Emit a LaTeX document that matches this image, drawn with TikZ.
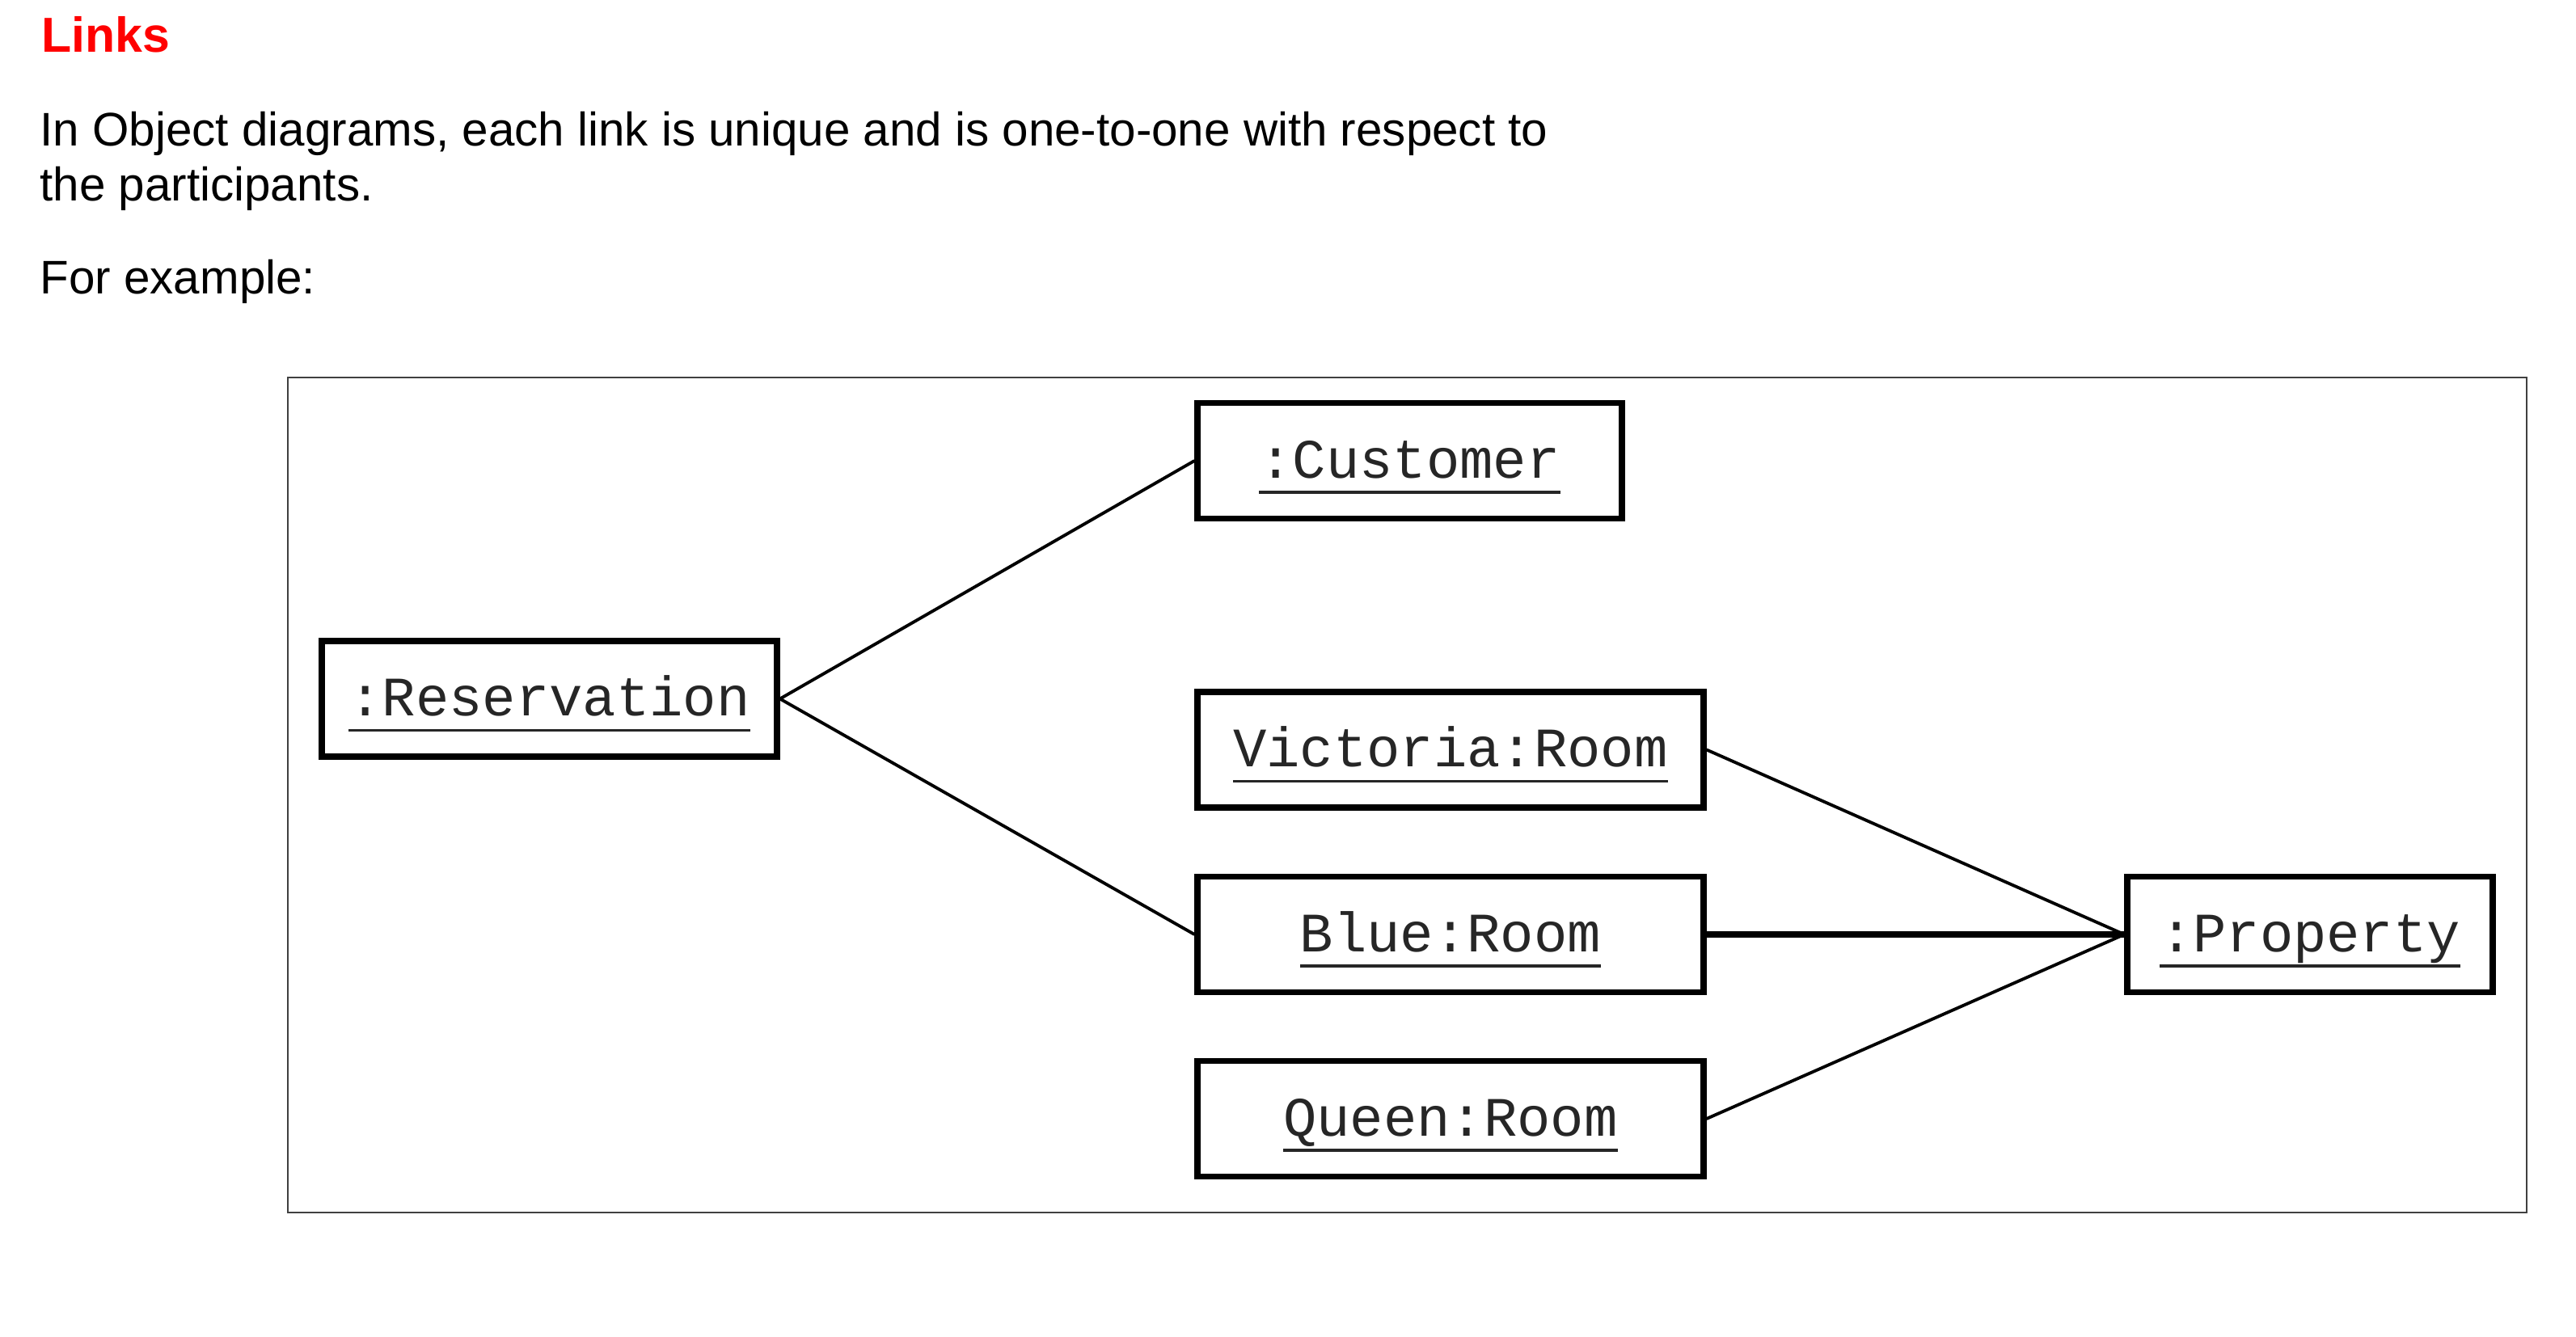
\documentclass[tikz,border=0pt]{standalone}
\usepackage{fontspec}
\setmainfont{Liberation Sans}
\newfontfamily\objfont{Liberation Mono}
\newcommand{\objname}[1]{\setbox0\hbox{#1}\rlap{\rule[-5.6pt]{\wd0}{1pt}}\box0}
\begin{document}
\begin{tikzpicture}[
    obj/.style = {draw, line width = 2.1pt, inner sep = 0pt, minimum height = 1.43cm,
      font = \objfont\fontsize{19.6}{22}\selectfont, text = black!85, text height = 12pt, text depth = 0pt},
    link/.style = {line width = 1.1pt}]
      \useasboundingbox (0,0) rectangle (31.86,16.53);
      \node[anchor = base west, inner sep = 0pt, text = red, font = \fontsize{17.3}{20}\selectfont\bfseries] (title) at (0.51,15.88) {Links};
      \node[anchor = base west, inner sep = 0pt, align = left, font = \fontsize{16.6}{19.6}\selectfont] (intro) at (0.49,14.04) {In Object diagrams, each link is unique and is one-to-one with respect to\\the participants.};
      \node[anchor = base west, inner sep = 0pt, font = \fontsize{16.6}{19.6}\selectfont] (example) at (0.49,12.89) {For example:};
      \draw[black!75, line width = 0.6pt] (3.56,1.53) rectangle (31.25,11.86);
      \node[obj, minimum width = 5.25cm] (customer) at (17.435,10.83) {\objname{:Customer}};
      \node[obj, minimum width = 5.63cm] (reservation) at (6.795,7.885) {\objname{:Reservation}};
      \node[obj, minimum width = 6.26cm] (victoria) at (17.94,7.255) {\objname{Victoria:Room}};
      \node[obj, minimum width = 6.26cm] (blue) at (17.94,4.97) {\objname{Blue:Room}};
      \node[obj, minimum width = 6.26cm] (queen) at (17.94,2.69) {\objname{Queen:Room}};
      \node[obj, minimum width = 4.52cm] (property) at (28.57,4.97) {\objname{:Property}};
      \draw[link]
      (reservation.east) -- (customer.west)
      (reservation.east) -- (blue.west)
      (victoria.east) -- (property.west)
      (queen.east) -- (property.west);
      \draw[link, line width = 2.4pt] (blue.east) -- (property.west);
    \end{tikzpicture}
\end{document}
